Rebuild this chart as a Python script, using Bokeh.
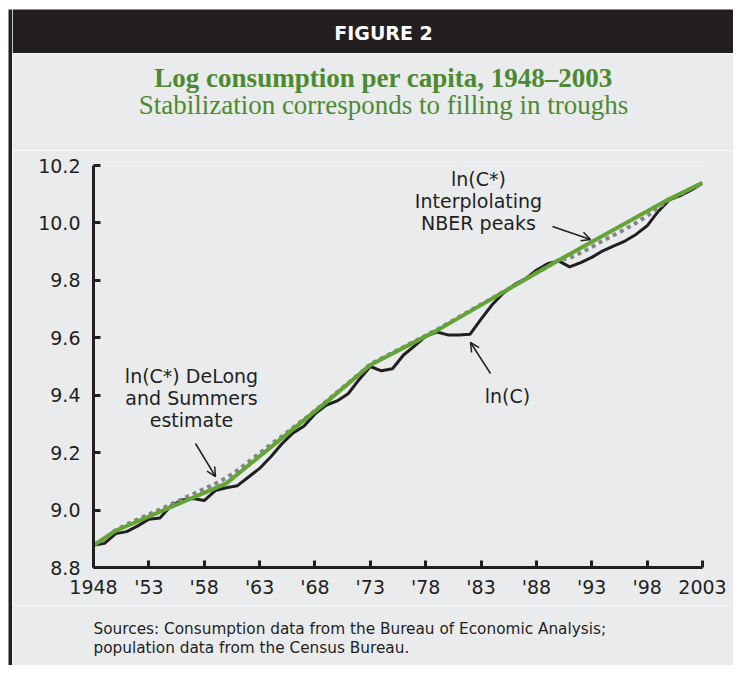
from bokeh.plotting import figure
from bokeh.layouts import row, column
from bokeh.models import FixedTicker, Label, Arrow, OpenHead
from bokeh.embed import file_html
from bokeh.resources import INLINE

# ---------------- data ----------------
years = list(range(1948, 2004))

# ln(C): log real consumption per capita
ln_c = [
    8.877, 8.884, 8.918, 8.925, 8.945, 8.968, 8.972, 9.015, 9.035, 9.040,
    9.033, 9.068, 9.078, 9.085, 9.115, 9.145, 9.185, 9.230, 9.268, 9.292,
    9.335, 9.365, 9.380, 9.405, 9.455, 9.500, 9.485, 9.492, 9.540, 9.572,
    9.605, 9.620, 9.610, 9.610, 9.612, 9.665, 9.715, 9.755, 9.785, 9.805,
    9.835, 9.858, 9.868, 9.847, 9.862, 9.880, 9.903, 9.920, 9.937, 9.960,
    9.990, 10.040, 10.080, 10.095, 10.115, 10.138,
]

# ln(C*) DeLong and Summers estimate (dotted gray)
ln_cstar_ds = [
    8.877, 8.900, 8.930, 8.950, 8.968, 8.985, 9.002, 9.020, 9.038, 9.056,
    9.074, 9.092, 9.112, 9.138, 9.168, 9.198, 9.228, 9.256, 9.286, 9.316,
    9.346, 9.378, 9.410, 9.442, 9.474, 9.508, 9.528, 9.548, 9.568, 9.588,
    9.608, 9.628, 9.650, 9.672, 9.694, 9.716, 9.738, 9.760, 9.782, 9.804,
    9.826, 9.848, 9.870, 9.878, 9.896, 9.916, 9.938, 9.958, 9.978, 10.000,
    10.024, 10.052, 10.082, 10.100, 10.120, 10.140,
]

# ln(C*) interpolating NBER peaks (green): values at the peak years
peak_years = [1948, 1950, 1960, 1969, 1973, 1979, 1990, 2000, 2003]
ln_cstar_peaks = [8.877, 8.928, 9.093, 9.375, 9.505, 9.625, 9.870, 10.083, 10.140]

x_ticks = [1948, 1953, 1958, 1963, 1968, 1973, 1978, 1983, 1988, 1993, 1998, 2003]
x_tick_labels = ["1948", "'53", "'58", "'63", "'68", "'73", "'78", "'83", "'88", "'93", "'98", "2003"]
y_ticks = [8.8, 9.0, 9.2, 9.4, 9.6, 9.8, 10.0, 10.2]
y_tick_labels = ["8.8", "9.0", "9.2", "9.4", "9.6", "9.8", "10.0", "10.2"]

# ---------------- styling ----------------
DARK = "#231f20"
PANEL = "#eaebed"
GREEN_LINE = "#64a336"
GREEN_TEXT = "#4c8a30"
GRAY = "#858585"
SANS = "DejaVu Sans"
SERIF = "Liberation Serif"

W, H = 733, 665          # whole picture (canvas pixels)
STRIP = 12               # left white margin + dark border
CW = W - STRIP           # width of the right column


def blank(width, height, x0, x1, y_top, y_bottom, bg):
    """A figure whose frame is its whole canvas, in pixel coordinates."""
    f = figure(width=width, height=height, x_range=(x0, x1), y_range=(y_bottom, y_top),
               x_axis_location=None, y_axis_location=None, min_border=0,
               output_backend="svg", toolbar_location=None, frame_align=False,
               background_fill_color=bg, border_fill_color=bg)
    f.outline_line_color = None
    f.grid.visible = False
    return f


def plabel(f, x, y, text, font=SANS, size="19px", color=DARK, align="center", style="normal"):
    f.add_layout(Label(x=x, y=y, text=text, text_font=font, text_font_size=size,
                       text_font_style=style, text_color=color, text_align=align,
                       text_baseline="middle"))


# left strip: white margin + dark border line
strip = blank(STRIP, H, 0, STRIP, 0, H, "white")
strip.quad(left=8, right=12, top=9, bottom=H, fill_color=DARK, line_color=None)

# header bar
header = blank(CW, 53, STRIP, W, 0, 53, "white")
header.quad(left=STRIP, right=W, top=9, bottom=53, fill_color=DARK, line_color=None)
plabel(header, 383, 32, "FIGURE 2", size="19px", color="white", style="bold")

# titles
titles = blank(CW, 97, STRIP, W, 53, 150, PANEL)
plabel(titles, 383, 77, "Log consumption per capita, 1948\u20132003", font=SERIF,
       size="27px", color=GREEN_TEXT, style="bold")
plabel(titles, 383, 104, "Stabilization corresponds to filling in troughs", font=SERIF,
       size="27px", color=GREEN_TEXT)

# main chart: frame spans x 93..702, y 165..567 (picture pixels)
FL, FR, FT, FB = 93, 702, 165, 567
TOP, BOTTOM = 150, 605
X0, X1, Y0, Y1 = 1948, 2003, 8.8, 10.2

p = figure(
    width=CW, height=BOTTOM - TOP,
    x_range=(X0, X1), y_range=(Y0, Y1),
    min_border_left=FL - STRIP, min_border_right=W - FR,
    min_border_top=FT - TOP, min_border_bottom=BOTTOM - FB,
    output_backend="svg", toolbar_location=None, frame_align=False,
    background_fill_color=PANEL, border_fill_color=PANEL,
)
p.outline_line_color = None
p.grid.visible = False

for ax in (p.xaxis[0], p.yaxis[0]):
    ax.axis_line_color = DARK
    ax.axis_line_width = 3
    ax.major_tick_line_color = DARK
    ax.major_tick_line_width = 3
    ax.major_tick_in = 7
    ax.major_tick_out = 0
    ax.minor_tick_line_color = None
    ax.major_label_text_font = SANS
    ax.major_label_text_font_size = "19px"
    ax.major_label_text_color = DARK

p.xaxis[0].ticker = FixedTicker(ticks=x_ticks)
p.xaxis[0].major_label_overrides = {t: l for t, l in zip(x_ticks, x_tick_labels)}
p.xaxis[0].major_label_standoff = 8
p.yaxis[0].ticker = FixedTicker(ticks=y_ticks)
p.yaxis[0].major_label_overrides = {t: l for t, l in zip(y_ticks, y_tick_labels)}
p.yaxis[0].major_label_standoff = 13

p.line(years, ln_c, line_color=DARK, line_width=3)
p.line(years, ln_cstar_ds, line_color=GRAY, line_width=4, line_dash="4 4")
p.line(peak_years, ln_cstar_peaks, line_color=GREEN_LINE, line_width=4)


def dx(px):
    return X0 + (px - FL) * (X1 - X0) / (FR - FL)


def dy(py):
    return Y0 + (FB - py) * (Y1 - Y0) / (FB - FT)


def alab(px, py, text):
    plabel(p, dx(px), dy(py), text, size="19px")


alab(191, 375, "ln(C*) DeLong")
alab(191, 397, "and Summers")
alab(191, 419, "estimate")
alab(478, 178, "ln(C*)")
alab(478, 200, "Interplolating")
alab(478, 222, "NBER peaks")
alab(507, 395, "ln(C)")


def arrow(px0, py0, px1, py1):
    p.add_layout(Arrow(end=OpenHead(size=9, line_width=1.5, line_color=DARK),
                       x_start=dx(px0), y_start=dy(py0), x_end=dx(px1), y_end=dy(py1),
                       line_color=DARK, line_width=1.5))


arrow(195, 443, 215, 476)
arrow(552, 226, 590, 239)
arrow(490, 373, 470, 342)

# sources
sources = blank(CW, H - BOTTOM, STRIP, W, BOTTOM, H, PANEL)
plabel(sources, 93, 628, "Sources: Consumption data from the Bureau of Economic Analysis;",
       size="15.3px", align="left")
plabel(sources, 93, 647, "population data from the Census Bureau.", size="15.3px", align="left")

layout = row(strip, column(header, titles, p, sources, spacing=0), spacing=0)

open("out.html", "w").write(file_html(layout, INLINE))
